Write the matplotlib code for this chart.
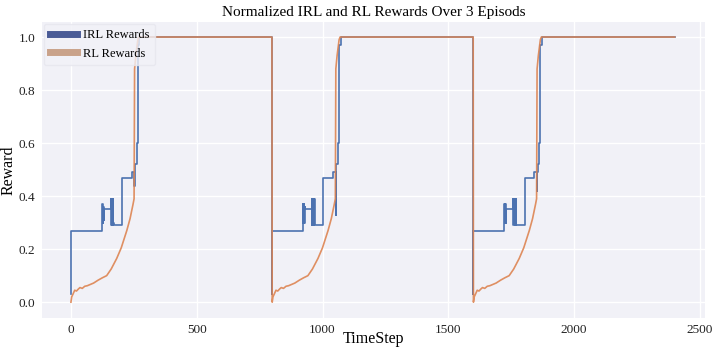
import matplotlib
matplotlib.use("Agg")
import matplotlib.pyplot as plt
from matplotlib.lines import Line2D
import numpy as np

# %% Data (steps relative to episode start)
episode_len = 800
n_episodes = 3

# IRL reward (step function, relative time step within episode)
irl_steps = [0, 0, 123, 124, 125, 126, 127, 128, 129, 130, 131,
             158, 159, 160, 161, 162, 163, 164, 165, 166, 167, 168, 169, 170,
             203, 242, 252, 253, 255, 262, 266, 272]
irl_vals = [0.03, 0.27, 0.37, 0.30, 0.37, 0.31, 0.37, 0.30, 0.36, 0.31, 0.35,
            0.39, 0.29, 0.39, 0.29, 0.39, 0.30, 0.39, 0.29, 0.38, 0.29, 0.39, 0.30, 0.29,
            0.47, 0.49, None, 0.49, 0.52, 0.60, 0.97, 1.0]
irl_dips = [0.44, 0.33, 0.42]   # short dip near step 252 in each episode

# RL reward (smooth curve, relative time step within episode)
rl_steps = [0, 3, 8, 15, 22, 30, 36, 45, 55, 65, 75, 90, 108, 125, 142, 160, 182, 200,
            222, 235, 247, 251, 253, 258, 266, 270]
rl_vals = [0.0, 0.02, 0.03, 0.045, 0.042, 0.05, 0.055, 0.052, 0.06, 0.062, 0.066, 0.072,
           0.083, 0.092, 0.10, 0.125, 0.165, 0.205, 0.27, 0.315, 0.37, 0.39, 0.88, 0.93,
           0.99, 1.0]

# %% Build full series
irl_x, irl_y, rl_x, rl_y = [], [], [], []
for ep in range(n_episodes):
    off = ep * episode_len
    for s, v in zip(irl_steps, irl_vals):
        irl_x.append(off + s)
        irl_y.append(irl_dips[ep] if v is None else v)
    for s, v in zip(rl_steps, rl_vals):
        rl_x.append(off + s)
        rl_y.append(v)
    if ep < n_episodes - 1:
        irl_x.append(off + episode_len - 1); irl_y.append(1.0)
        rl_x.append(off + episode_len - 1); rl_y.append(1.0)
irl_x.append(n_episodes * episode_len); irl_y.append(1.0)
rl_x.append(n_episodes * episode_len); rl_y.append(1.0)

# %% Plot
plt.rcParams["font.family"] = ["Liberation Serif", "DejaVu Serif"]

fig = plt.figure(figsize=(7.12, 3.48), dpi=100)
ax = fig.add_axes([0.059, 0.086, 0.931, 0.851])
ax.set_facecolor("#f1f1f7")
ax.grid(True, color="white", linewidth=1.0)
ax.set_axisbelow(True)
for sp in ax.spines.values():
    sp.set_visible(False)

ax.plot(irl_x, irl_y, color="#4c72b0", linewidth=1.2, drawstyle="steps-post")
ax.plot(rl_x, rl_y, color="#dd8452", linewidth=1.2, alpha=0.9)

ax.set_xlim(-115, 2520)
ax.set_ylim(-0.06, 1.057)
ax.set_xticks(np.arange(0, 2501, 500))
ax.set_yticks(np.arange(0, 1.01, 0.2))
ax.set_yticklabels([f"{t:.1f}" for t in np.arange(0, 1.01, 0.2)])
ax.tick_params(axis="both", length=0, labelsize=9.5, colors="#222222")
ax.tick_params(axis="y", pad=5)
ax.tick_params(axis="x", pad=4)

ax.set_title("Normalized IRL and RL Rewards Over 3 Episods", fontsize=11, pad=4)
ax.set_xlabel("TimeStep", fontsize=11.5, labelpad=-3)
ax.set_ylabel("Reward", fontsize=11.5, labelpad=1)

handles = [Line2D([], [], color="#4a5b96", linewidth=5),
           Line2D([], [], color="#c9a28a", linewidth=5)]
ax.legend(handles, ["IRL Rewards", "RL Rewards"], loc="upper left", fontsize=9,
          frameon=True, facecolor="#f1f1f7", edgecolor="#e6e6ee",
          borderaxespad=0.15, handlelength=2.2, handletextpad=0.5, borderpad=0.45)

fig.savefig("out.png", dpi=100)
